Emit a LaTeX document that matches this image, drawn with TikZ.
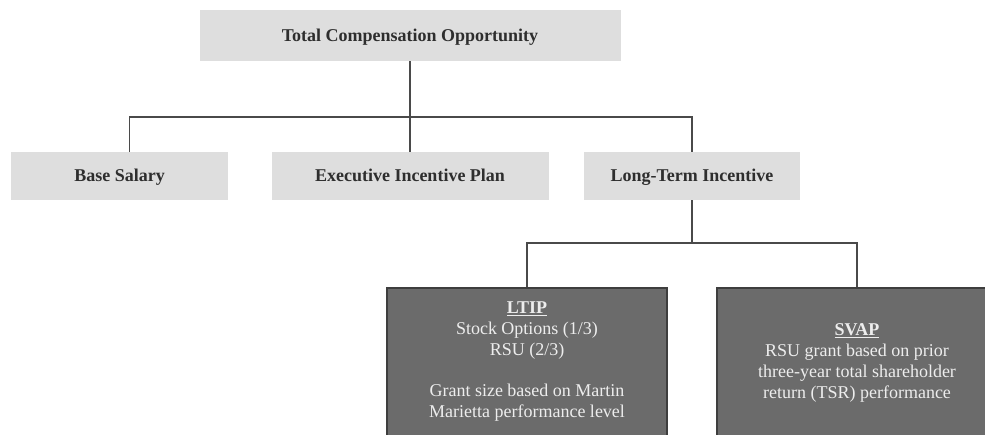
\documentclass[tikz,border=0pt]{standalone}
\usepackage{fontspec}
\setmainfont{Liberation Serif}
\usetikzlibrary{positioning}
\definecolor{lightbox}{HTML}{DEDEDE}
\definecolor{darkbox}{HTML}{6B6B6B}
\definecolor{darkedge}{HTML}{3E3E3E}
\definecolor{linkc}{HTML}{4A4A4A}
\definecolor{paletxt}{HTML}{EDEDED}
\definecolor{labeltxt}{HTML}{2E2E2E}
\tikzset{
  head/.style={fill=lightbox,minimum height=48pt,inner sep=0pt,text height=14pt,text depth=2pt,text=labeltxt,font=\bfseries\fontsize{18}{20}\selectfont},
  plan/.style={fill=darkbox,draw=darkedge,line width=1.6pt,minimum width=280pt,minimum height=180pt,anchor=north},
  plantxt/.style={align=center,text=paletxt,inner sep=0pt,font=\fontsize{18}{21}\selectfont},
  link/.style={linkc,line width=1.4pt}
}

\begin{document}
\begin{tikzpicture}[x=1pt,y=-1pt]
\useasboundingbox (0,0) rectangle (985,435);
\clip (0,0) rectangle (985,435);
% top level
\node[head,minimum width=421pt,minimum height=51pt] (total) at (410,35.5) {Total Compensation Opportunity};
\node[head,minimum width=217pt] (base) at (119.5,176) {Base Salary};
\node[head,minimum width=277pt] (eip) at (410,176) {Executive Incentive Plan};
\node[head,minimum width=216pt] (lti) at (692,176) {Long-Term Incentive};
% long-term plans
\node[plan] (ltip) at (527,287) {};
\node[plan] (svap) at (857,287) {};
\node[plantxt,below=15pt of ltip.north] (ltiptxt) {\underline{\textbf{LTIP}}\\Stock Options (1/3)\\RSU (2/3)\\[20pt]Grant size based on Martin\\Marietta performance level};
\node[plantxt,below=36pt of svap.north] (svaptxt) {\underline{\textbf{SVAP}}\\RSU grant based on prior\\three-year total shareholder\\return (TSR) performance};
% connectors
\coordinate (j1) at (410,117);
\coordinate (j2) at (692,243);
\draw[link] (total.south) -- (eip.north);
\draw[link] ([xshift=10pt]base.north) |- (j1) -| (lti.north);
\draw[link] (lti.south) -- (j2);
\draw[link] (ltip.north) |- (j2) -| (svap.north);
\end{tikzpicture}
\end{document}
